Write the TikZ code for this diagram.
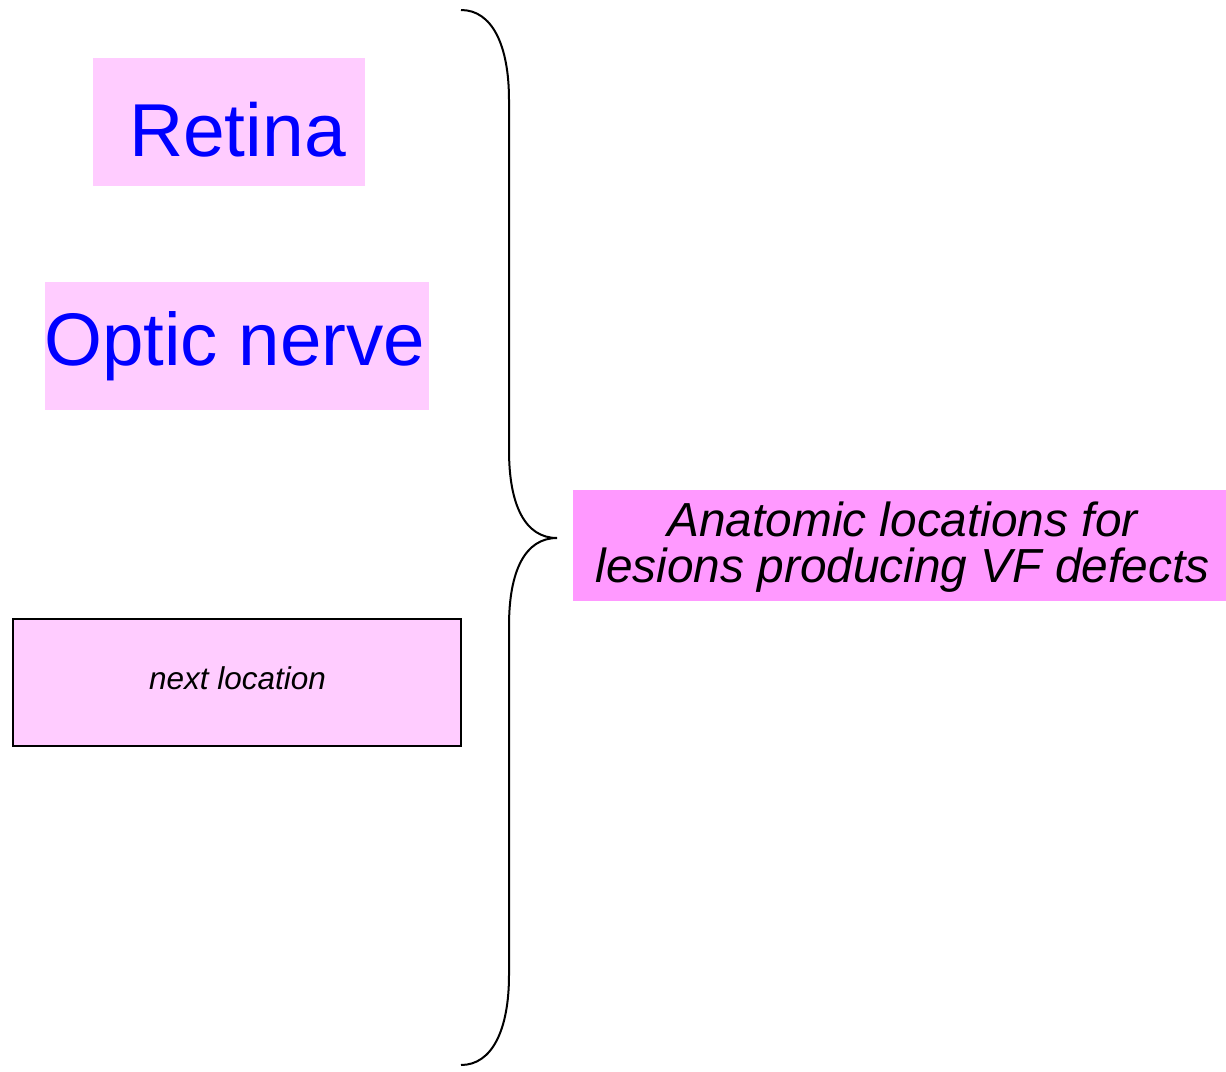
\documentclass[tikz,border=0pt]{standalone}
\usepackage{fontspec}
\setmainfont{Liberation Sans}
\definecolor{lightpink}{HTML}{FFCCFF}
\definecolor{midpink}{HTML}{FF99FF}
\definecolor{txtblue}{HTML}{0000FF}
\begin{document}
\begin{tikzpicture}[x=1pt,y=-1pt,
  pinkbox/.style={rectangle, inner sep=0pt, fill=lightpink, draw=none},
  bigtext/.style={anchor=base, inner sep=0pt, text=txtblue, font=\fontsize{75}{80}\selectfont},
  smalltext/.style={anchor=base, inner sep=0pt, font=\fontsize{31.5}{36}\selectfont\itshape},
  desctext/.style={anchor=base, inner sep=0pt, font=\fontsize{47.8}{46}\selectfont\itshape},
  bracepath/.style={draw=black, line width=2pt}]
\useasboundingbox (0,0) rectangle (1226,1071);

% Retina
\node[pinkbox, minimum width=272pt, minimum height=128pt] (retinabox) at (229,121.5) {};
\node[bigtext] (retina) at (237.4,156.7) {Retina};

% Optic nerve
\node[pinkbox, minimum width=384pt, minimum height=128pt] (opticbox) at (237,345.8) {};
\node[bigtext, font=\fontsize{74.5}{80}\selectfont] (optic) at (234.8,365) {Optic nerve};

% next location
\node[pinkbox, draw=black, line width=2pt, minimum width=448pt, minimum height=127pt] (nextbox) at (237,682) {};
\node[smalltext] (nexttext) at (237.5,689) {next location};

% description
\node[rectangle, inner sep=0pt, fill=midpink, minimum width=653pt, minimum height=111pt] (descbox) at (899.5,545.5) {};
\node[desctext] (desc1) at (902.5,536.5) {Anatomic locations for};
\node[desctext] (desc2) at (902.5,582.5) {lesions producing VF defects};

% brace
\coordinate (btop) at (461,10);
\coordinate (btip) at (557,538);
\coordinate (bbot) at (461,1065);
\draw[bracepath] (btop) .. controls (492,10) and (509,45) .. (509,100)
  -- (509,450) .. controls (509,505) and (525,538) .. (btip)
  .. controls (525,538) and (509,571) .. (509,626)
  -- (509,975) .. controls (509,1030) and (492,1065) .. (bbot);
\end{tikzpicture}
\end{document}
